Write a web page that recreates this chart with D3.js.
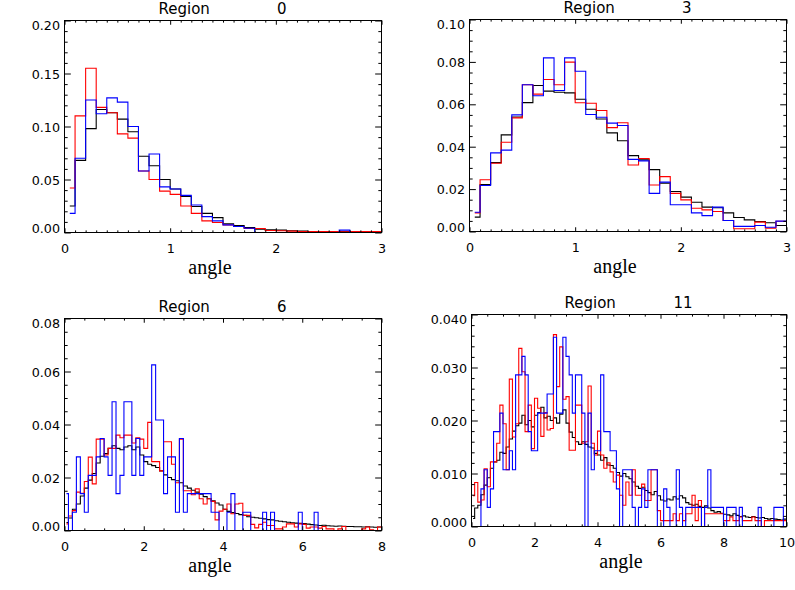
<!DOCTYPE html>
<html>
<head>
<meta charset="utf-8">
<script src="https://cdn.jsdelivr.net/npm/d3@7"></script>
<style>
  body { margin: 0; background: #fff; }
  svg { display: block; }
</style>
</head>
<body>
<svg id="chart" width="795" height="590"></svg>
<script>
// histogram values, one value per 0.1 wide angle bin
var binWidth = 0.1;

// Region 0 (30 bins, 0..3)
var region0Black = [0.025, 0.068, 0.098, 0.116, 0.113, 0.107, 0.095, 0.072, 0.063, 0.050,
  0.041, 0.034, 0.0245, 0.018, 0.014, 0.0082, 0.0066, 0.0047, 0.0031, 0.0025,
  0.0022, 0.0016, 0.0013, 0.0010, 0.0010, 0.0006, 0.0010, 0.0006, 0.0004, 0.0003];
var region0Red = [0.042, 0.110, 0.155, 0.118, 0.113, 0.093, 0.089, 0.058, 0.050, 0.039,
  0.036, 0.025, 0.018, 0.011, 0.0094, 0.0072, 0.0057, 0.0038, 0.0038, 0.0019,
  0.0016, 0.0013, 0.0010, 0.0008, 0.0010, 0.0010, 0.0006, 0.0008, 0.0008, 0.0010];
var region0Blue = [0.018, 0.070, 0.125, 0.112, 0.127, 0.123, 0.100, 0.058, 0.074, 0.043,
  0.041, 0.035, 0.026, 0.015, 0.011, 0.0072, 0.0057, 0.0040, 0, 0,
  0, 0, 0, 0, 0, 0, 0.0022, 0, 0, 0];

// Region 3 (30 bins, 0..3)
var region3Black = [0.0068, 0.0222, 0.0325, 0.0456, 0.054, 0.0608, 0.0689, 0.0662, 0.0657, 0.0654,
  0.0624, 0.0577, 0.0531, 0.0465, 0.0428, 0.0358, 0.0338, 0.0292, 0.0228, 0.0189,
  0.0162, 0.0138, 0.0115, 0.0112, 0.0088, 0.0066, 0.0055, 0.0047, 0.0041, 0.0028];
var region3Red = [0.0088, 0.0244, 0.0322, 0.0421, 0.0536, 0.0692, 0.0648, 0.0717, 0.0692, 0.0799,
  0.0607, 0.0605, 0.0571, 0.0490, 0.0513, 0.0314, 0.0344, 0.0219, 0.0259, 0.0180,
  0.0149, 0.0110, 0.0102, 0.0094, 0.0052, 0.0013, 0.0013, 0.0044, 0.0016, 0.0048];
var region3Blue = [0.0091, 0.0217, 0.0371, 0.0384, 0.055, 0.0692, 0.064, 0.0819, 0.0665, 0.0819,
  0.0756, 0.0552, 0.0539, 0.0511, 0.0500, 0.0340, 0.0333, 0.0180, 0.0233, 0.0126,
  0.0126, 0.0088, 0.0075, 0.0115, 0.0052, 0.0024, 0.0024, 0.0028, 0.0020, 0.0049];

// Region 6 (80 bins, 0..8)
var region6Black = [0.0030, 0.0047, 0.0080, 0.0100, 0.0130, 0.0160, 0.0190, 0.0215, 0.0255, 0.0280,
  0.0290, 0.0310, 0.0320, 0.0310, 0.0305, 0.0315, 0.0320, 0.0305, 0.0315, 0.0285,
  0.0260, 0.0250, 0.0245, 0.0238, 0.0225, 0.0210, 0.0200, 0.0192, 0.0188, 0.0180,
  0.0168, 0.0160, 0.0152, 0.0145, 0.0137, 0.0128, 0.0120, 0.0112, 0.0104, 0.0096,
  0.0080, 0.0072, 0.0068, 0.0064, 0.0060, 0.0057, 0.0052, 0.0050, 0.0048, 0.0046,
  0.0044, 0.0041, 0.0040, 0.0037, 0.0035, 0.0033, 0.0031, 0.0029, 0.0028, 0.0027,
  0.0026, 0.0024, 0.0022, 0.0021, 0.0019, 0.0020, 0.0018, 0.0017, 0.0016, 0.0017,
  0.0016, 0.0015, 0.0015, 0.0014, 0.0014, 0.0013, 0.0014, 0.0013, 0.0012, 0.0013];
var region6Red = [0.0025, 0.0055, 0.0075, 0.0145, 0.0140, 0.0185, 0.0277, 0.0176, 0.0345, 0.0345,
  0.0285, 0.0310, 0.0310, 0.0360, 0.0350, 0.0360, 0.0360, 0.0330, 0.0350, 0.0345,
  0.0310, 0.0408, 0.0260, 0.0260, 0.0225, 0.0335, 0.0335, 0.0250, 0.0180, 0.0345,
  0.0150, 0.0150, 0.0135, 0.0157, 0.0120, 0.0100, 0.0120, 0.0110, 0.0040, 0.0073,
  0.0080, 0.0100, 0.0063, 0.0100, 0.0103, 0.0057, 0.0057, 0.0023, 0.0010, 0.0023,
  0.0031, 0.0019, 0.0019, 0.0006, 0.0006, 0.0013, 0.0025, 0.0025, 0.0013, 0.0025,
  0.0023, 0.0009, 0.0013, 0.0013, 0.0009, 0.0015, 0.0006, 0.0006, 0, 0.0006,
  0.0015, 0, 0, 0, 0, 0.0006, 0.0013, 0.0003, 0, 0.0013];
var region6Blue = [0.0139, 0, 0.0069, 0.0278, 0.0139, 0.0069, 0.0208, 0.0208, 0.0278, 0.0347,
  0.0278, 0.0208, 0.0486, 0.0139, 0.0208, 0.0486, 0.0486, 0.0208, 0.0347, 0.0208,
  0.0278, 0.0278, 0.0625, 0.0417, 0.0417, 0.0139, 0.0278, 0.0278, 0.0069, 0.0347,
  0.0069, 0.0139, 0.0139, 0.0139, 0.0139, 0.0139, 0.0139, 0.0069, 0.0069, 0,
  0, 0.0069, 0.0139, 0, 0, 0.0069, 0.0069, 0, 0, 0,
  0.0069, 0, 0.0069, 0, 0, 0, 0, 0, 0, 0.0069,
  0, 0, 0, 0.0069, 0, 0, 0, 0, 0, 0,
  0, 0, 0, 0, 0, 0, 0, 0, 0, 0];

// Region 11 (100 bins, 0..10)
var region11Black = [0.0015, 0.0035, 0.0040, 0.0060, 0.0078, 0.0092, 0.0110, 0.0122, 0.0125, 0.0140,
  0.0138, 0.0150, 0.0165, 0.0180, 0.0190, 0.0195, 0.0210, 0.0192, 0.0200, 0.0188,
  0.0210, 0.0215, 0.0225, 0.0205, 0.0208, 0.0200, 0.0205, 0.0195, 0.0212, 0.0220,
  0.0195, 0.0178, 0.0168, 0.0160, 0.0155, 0.0160, 0.0155, 0.0150, 0.0148, 0.0138,
  0.0135, 0.0125, 0.0130, 0.0116, 0.0115, 0.0110, 0.0102, 0.0095, 0.0100, 0.0094,
  0.0090, 0.0084, 0.0076, 0.0072, 0.0074, 0.0068, 0.0064, 0.0060, 0.0066, 0.0058,
  0.0050, 0.0048, 0.0052, 0.0050, 0.0056, 0.0052, 0.0058, 0.0054, 0.0045, 0.0042,
  0.0040, 0.0042, 0.0038, 0.0036, 0.0039, 0.0035, 0.0030, 0.0027, 0.0028, 0.0025,
  0.0023, 0.0022, 0.0020, 0.0024, 0.0021, 0.0019, 0.0020, 0.0018, 0.0017, 0.0019,
  0.0017, 0.0016, 0.0017, 0.0015, 0.0014, 0.0015, 0.0014, 0.0013, 0.0012, 0.0014];
var region11Red = [0.0058, 0.0083, 0.0046, 0.0050, 0.0109, 0.0075, 0.0122, 0.0122, 0.0157, 0.0229,
  0.0194, 0.0107, 0.0278, 0.0169, 0.0194, 0.0336, 0.0292, 0.0179, 0.0229, 0.0147,
  0.0242, 0.0223, 0.0170, 0.0215, 0.0182, 0.0185, 0.0362, 0.0264, 0.0339, 0.0240,
  0.0245, 0.0144, 0.0144, 0.0229, 0.0229, 0.0157, 0.0160, 0.0265, 0.0157, 0.0135,
  0.0180, 0.0135, 0.0110, 0.0120, 0.0103, 0.0084, 0.0097, 0.0059, 0.0040, 0.0084,
  0.0059, 0.0107, 0.0059, 0.0059, 0.0080, 0.0049, 0.0049, 0.0107, 0.0107, 0.0030,
  0.0011, 0.0011, 0.0011, 0.0011, 0.0024, 0.0011, 0.0024, 0.0011, 0.0024, 0.0024,
  0.0059, 0.0011, 0.0049, 0, 0.0024, 0.0024, 0.0024, 0.0024, 0.0024, 0.0024,
  0.0011, 0.0011, 0.0018, 0.0011, 0.0011, 0.0018, 0.0011, 0.0011, 0.0011, 0.0018,
  0.0011, 0.0011, 0, 0.0011, 0.0011, 0.0011, 0.0011, 0.0011, 0.0011, 0.0011];
var region11Blue = [0, 0, 0, 0.0071, 0.0107, 0.0036, 0.0071, 0.0179, 0.0179, 0.0214,
  0.0107, 0.0107, 0.0143, 0.0107, 0.0286, 0.0286, 0.0321, 0.0286, 0.0179, 0.0143,
  0.0143, 0.0214, 0.0214, 0.0214, 0.0250, 0.0250, 0.0357, 0.0214, 0.0214, 0.0357,
  0.0321, 0.0286, 0.0214, 0.0286, 0.0286, 0.0214, 0, 0.0214, 0.0107, 0.0143,
  0.0143, 0.0286, 0.0179, 0.0179, 0.0143, 0.0143, 0.0071, 0, 0.0107, 0.0107,
  0.0107, 0.0036, 0, 0.0036, 0.0071, 0.0036, 0.0107, 0.0107, 0.0107, 0,
  0, 0.0071, 0.0036, 0, 0, 0.0107, 0.0036, 0, 0.0036, 0.0036,
  0.0036, 0.0036, 0.0036, 0, 0.0036, 0.0107, 0.0036, 0.0036, 0.0036, 0.0036,
  0, 0.0036, 0.0036, 0.0036, 0, 0.0036, 0, 0, 0, 0,
  0, 0.0036, 0, 0, 0, 0, 0.0036, 0.0036, 0.0036, 0];

var panels = [
  {region: "0", left: 64.5, top: 20.5, right: 381.5, bottom: 232.5,
   xMax: 3, xStep: 1, xMinor: 10, yMax: 0.20, yStep: 0.05, yMinor: 5, yFmt: ".2f", angleShift: -13,
   black: region0Black, red: region0Red, blue: region0Blue},
  {region: "3", left: 469.5, top: 19.5, right: 786.5, bottom: 231.5,
   xMax: 3, xStep: 1, xMinor: 10, yMax: 0.10, yStep: 0.02, yMinor: 4, yFmt: ".2f", angleShift: -13,
   black: region3Black, red: region3Red, blue: region3Blue},
  {region: "6", left: 64.5, top: 318.5, right: 381.5, bottom: 530.5,
   xMax: 8, xStep: 2, xMinor: 4, yMax: 0.08, yStep: 0.02, yMinor: 4, yFmt: ".2f", angleShift: -13,
   black: region6Black, red: region6Red, blue: region6Blue},
  {region: "11", left: 471.5, top: 314.5, right: 786.5, bottom: 526.5,
   xMax: 10, xStep: 2, xMinor: 4, yMax: 0.040, yStep: 0.010, yMinor: 5, yFmt: ".3f", angleShift: -8,
   black: region11Black, red: region11Red, blue: region11Blue}
];

var svg = d3.select("#chart");
svg.append("rect").attr("width", 795).attr("height", 590).attr("fill", "#fff");

var labelFont = "'DejaVu Sans', sans-serif";

panels.forEach(function (p, k) { drawPanel(p, k); });

function drawPanel(p, k) {
  var w = p.right - p.left, h = p.bottom - p.top;
  var cx = (p.left + p.right) / 2;
  var x = d3.scaleLinear().domain([0, p.xMax]).range([p.left, p.right]);
  var y = d3.scaleLinear().domain([0, p.yMax]).range([p.bottom, p.top]);

  var clipId = "clip" + k;
  svg.append("clipPath").attr("id", clipId)
    .append("rect").attr("x", p.left).attr("y", p.top).attr("width", w).attr("height", h);

  // histogram mode lines (IDL psym=10 style)
  var line = d3.line()
    .x(function (d) { return x(d[0]); })
    .y(function (d) { return y(d[1]); })
    .curve(d3.curveStep);

  var lines = svg.append("g").attr("clip-path", "url(#" + clipId + ")");
  [[p.black, "#000000"], [p.red, "#ff0000"], [p.blue, "#0000ff"]].forEach(function (s) {
    var pts = s[0].map(function (v, i) { return [(i + 0.5) * binWidth, v]; });
    pts.push([s[0].length * binWidth, s[0][s[0].length - 1]]);
    lines.append("path")
      .datum(pts)
      .attr("fill", "none")
      .attr("stroke", s[1])
      .attr("stroke-width", 1.1)
      .attr("d", line);
  });

  // ticks
  var eps = 1e-9;
  var xMaj = d3.range(0, p.xMax + eps, p.xStep);
  var xMin = d3.range(0, p.xMax + eps, p.xStep / p.xMinor).filter(function (v) {
    return Math.abs(v / p.xStep - Math.round(v / p.xStep)) > 1e-6;
  });
  var yMaj = d3.range(0, p.yMax + eps * p.yMax, p.yStep);
  var yMin = d3.range(0, p.yMax + eps, p.yStep / p.yMinor).filter(function (v) {
    return Math.abs(v / p.yStep - Math.round(v / p.yStep)) > 1e-6;
  });
  var xt = 0.02 * h, yt = 0.02 * w;

  function addAxis(axis, tx, ty) {
    var g = svg.append("g").attr("transform", "translate(" + tx + "," + ty + ")").call(axis);
    g.select(".domain").remove();
    g.attr("font-family", labelFont).attr("font-size", 12.7);
    g.selectAll("line").attr("stroke", "#000");
    return g;
  }

  var bottomAxis = addAxis(d3.axisBottom(x).tickValues(xMaj).tickSize(-xt).tickPadding(11)
    .tickFormat(d3.format("d")), 0, p.bottom);
  bottomAxis.selectAll("text").attr("fill", "#000");
  addAxis(d3.axisBottom(x).tickValues(xMin).tickSize(-xt / 2).tickFormat(""), 0, p.bottom);
  addAxis(d3.axisTop(x).tickValues(xMaj).tickSize(-xt).tickFormat(""), 0, p.top);
  addAxis(d3.axisTop(x).tickValues(xMin).tickSize(-xt / 2).tickFormat(""), 0, p.top);

  var leftAxis = addAxis(d3.axisLeft(y).tickValues(yMaj).tickSize(-yt).tickPadding(4.5)
    .tickFormat(d3.format(p.yFmt)), p.left, 0);
  var lt = leftAxis.selectAll("text").attr("fill", "#000");
  var n = yMaj.length;
  lt.attr("dy", function (d, i) {
    if (i === 0) return "0.0em";
    if (i === n - 1) return "0.72em";
    return "0.36em";
  });
  addAxis(d3.axisLeft(y).tickValues(yMin).tickSize(-yt / 2).tickFormat(""), p.left, 0);
  addAxis(d3.axisRight(y).tickValues(yMaj).tickSize(-yt).tickFormat(""), p.right, 0);
  addAxis(d3.axisRight(y).tickValues(yMin).tickSize(-yt / 2).tickFormat(""), p.right, 0);

  // frame
  svg.append("rect")
    .attr("x", p.left).attr("y", p.top).attr("width", w).attr("height", h)
    .attr("fill", "none").attr("stroke", "#000").attr("stroke-width", 1);

  // title
  svg.append("text")
    .attr("x", cx - 64.5).attr("y", p.top - 7)
    .attr("font-family", labelFont).attr("font-size", 15)
    .attr("text-anchor", "start").attr("fill", "#000")
    .text("Region");
  svg.append("text")
    .attr("x", cx + 63.5).attr("y", p.top - 7)
    .attr("font-family", labelFont).attr("font-size", 15)
    .attr("text-anchor", "end").attr("fill", "#000")
    .text(p.region);

  // x title
  svg.append("text")
    .attr("x", cx + p.angleShift).attr("y", p.bottom + 41.5)
    .attr("font-family", "'Liberation Serif', 'Times New Roman', serif").attr("font-size", 20)
    .attr("text-anchor", "middle").attr("fill", "#000")
    .text("angle");
}
</script>
</body>
</html>
